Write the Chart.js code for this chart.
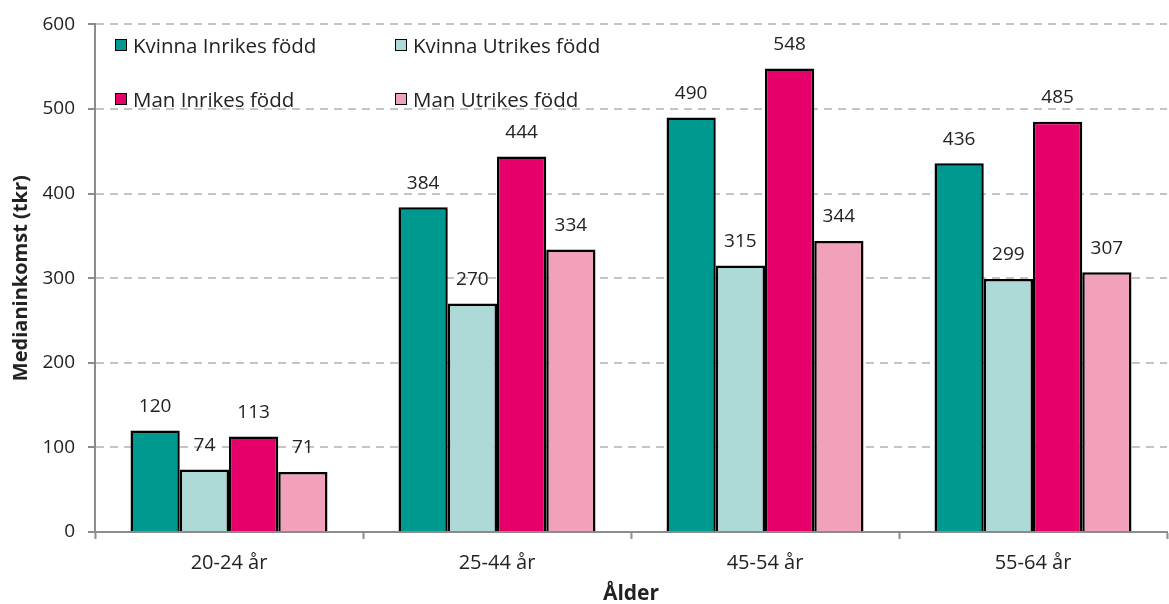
<!DOCTYPE html>
<html>
<head>
<meta charset="utf-8">
<script src="https://cdn.jsdelivr.net/npm/chart.js@4.4.0/dist/chart.umd.min.js"></script>
<style>
  html, body { margin: 0; padding: 0; background: #fff; }
  #wrap { position: relative; width: 1169px; height: 604px; }
  .legend-item {
    position: absolute;
    display: flex;
    align-items: center;
    font-family: 'Open Sans', sans-serif;
    font-size: 20.5px;
    color: #222;
    white-space: nowrap;
  }
  .legend-box {
    width: 10px;
    height: 10px;
    border: 1.5px solid #000;
    margin-right: 6px;
  }
</style>
</head>
<body>
<div id="wrap">
  <canvas id="incomeChart" width="1169" height="604"></canvas>
  <div id="legend"></div>
</div>
<script>
const ageGroups = ['20-24 år', '25-44 år', '45-54 år', '55-64 år'];
const seriesNames = [
  'Kvinna Inrikes född',
  'Kvinna Utrikes född',
  'Man Inrikes född',
  'Man Utrikes född',
];
const kvinnaInrikes = [120, 384, 490, 436];
const kvinnaUtrikes = [74, 270, 315, 299];
const manInrikes = [113, 444, 548, 485];
const manUtrikes = [71, 334, 344, 307];
const yTicks = [0, 100, 200, 300, 400, 500, 600];

const seriesColors = ['#009990', '#ADD9D6', '#E5006A', '#F2A1BA'];
const seriesData = [kvinnaInrikes, kvinnaUtrikes, manInrikes, manUtrikes];

const FONT = "'Open Sans', sans-serif";
const TEXT_COLOR = '#222';
const GRID_COLOR = '#C4C4C4';
const AXIS_COLOR = '#8C8C8C';

// legend sits inside the plot area, two columns
const legendEl = document.getElementById('legend');
const legendSpots = [
  { left: 115, top: 31 },
  { left: 395, top: 31 },
  { left: 115, top: 85 },
  { left: 395, top: 85 },
];
seriesNames.forEach((name, i) => {
  const item = document.createElement('div');
  item.className = 'legend-item';
  item.style.left = legendSpots[i].left + 'px';
  item.style.top = legendSpots[i].top + 'px';
  const box = document.createElement('span');
  box.className = 'legend-box';
  box.style.background = seriesColors[i];
  item.appendChild(box);
  item.appendChild(document.createTextNode(name));
  legendEl.appendChild(item);
});

const valueLabels = {
  id: 'valueLabels',
  afterDatasetsDraw(chart) {
    const { ctx } = chart;
    ctx.save();
    ctx.font = `19px ${FONT}`;
    ctx.fillStyle = TEXT_COLOR;
    ctx.textAlign = 'center';
    ctx.textBaseline = 'middle';
    chart.data.datasets.forEach((ds, i) => {
      chart.getDatasetMeta(i).data.forEach((bar, j) => {
        ctx.fillText(ds.data[j], bar.x, bar.y - 24);
      });
    });
    ctx.restore();
  },
};

const datasets = seriesNames.map((name, i) => ({
  label: name,
  data: seriesData[i],
  backgroundColor: seriesColors[i],
  borderColor: '#000',
  borderWidth: 2.5,
  borderSkipped: 'start',
  categoryPercentage: 0.735,
  barPercentage: 1,
}));

const SCALES = {
  x: {
    offset: true,
    grid: {
      offset: true,
      drawOnChartArea: false,
      drawTicks: true,
      tickLength: 7,
      tickWidth: 2,
      color: AXIS_COLOR,
    },
    border: { color: AXIS_COLOR, width: 2 },
    ticks: {
      color: TEXT_COLOR,
      font: { family: FONT, size: 20 },
      padding: 12,
    },
    title: {
      display: true,
      text: 'Ålder',
      color: TEXT_COLOR,
      font: { family: FONT, size: 21, weight: 'bold' },
      padding: { top: 0, bottom: -3 },
    },
    afterFit: (scale) => { scale.height = 72; },
  },
  y: {
    min: 0,
    max: 600,
    afterBuildTicks: (scale) => {
      scale.ticks = yTicks.map((v) => ({ value: v }));
    },
    grid: {
      color: GRID_COLOR,
      lineWidth: 2,
      drawTicks: true,
      tickLength: 7,
      tickColor: AXIS_COLOR,
      tickBorderDash: [],
      tickWidth: 2,
    },
    border: { color: AXIS_COLOR, width: 2, dash: [8, 6] },
    ticks: {
      color: TEXT_COLOR,
      font: { family: FONT, size: 19 },
      padding: 13,
    },
    title: {
      display: true,
      text: 'Medianinkomst (tkr)',
      color: TEXT_COLOR,
      font: { family: FONT, size: 20, weight: 'bold' },
      padding: { top: 9, bottom: 0 },
    },
    afterFit: (scale) => { scale.width = 95; },
  },
};

new Chart(document.getElementById('incomeChart'), {
  type: 'bar',
  data: { labels: ageGroups, datasets },
  options: {
    responsive: false,
    animation: false,
    devicePixelRatio: 1,
    layout: { padding: { left: 0, right: 2, top: 17, bottom: 0 } },
    plugins: {
      legend: { display: false },
      tooltip: { enabled: false },
    },
    scales: SCALES,
  },
  plugins: [valueLabels],
});
</script>
</body>
</html>
